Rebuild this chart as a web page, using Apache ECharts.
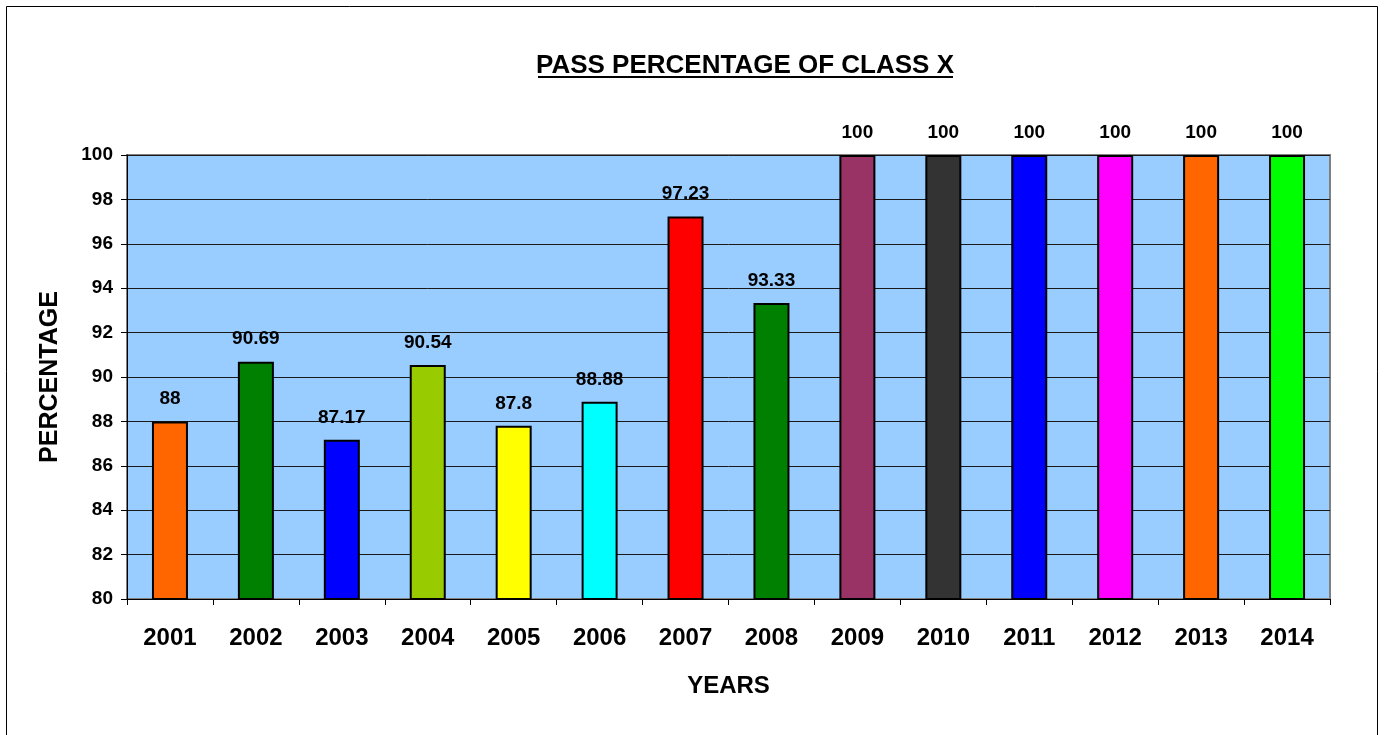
<!DOCTYPE html>
<html>
<head>
<meta charset="utf-8">
<script src="https://cdn.jsdelivr.net/npm/echarts@6/dist/echarts.min.js"></script>
<style>
html,body{margin:0;padding:0;background:#fff;}
#chart{width:1384px;height:735px;}
</style>
</head>
<body>
<div id="chart"></div>
<script>
var years = ['2001','2002','2003','2004','2005','2006','2007','2008','2009','2010','2011','2012','2013','2014'];
var passPercent = [88, 90.69, 87.17, 90.54, 87.8, 88.88, 97.23, 93.33, 100, 100, 100, 100, 100, 100];
var barColors = ['#FF6600','#008000','#0000FF','#99CC00','#FFFF00','#00FFFF','#FF0000','#008000','#993366','#333333','#0000FF','#FF00FF','#FF6600','#00FF00'];
var titleText = 'PASS PERCENTAGE OF CLASS X';

var chart = echarts.init(document.getElementById('chart'));
var font = 'Liberation Sans, Arial, sans-serif';
chart.setOption({
  animation: false,
  backgroundColor: '#ffffff',
  title: {
    text: titleText,
    left: 740,
    textAlign: 'center',
    top: 48,
    textStyle: { fontFamily: font, fontWeight: 'bold', fontSize: 26, color: '#000' }
  },
  graphic: [
    { type: 'rect', shape: { x: 6.5, y: 6.5, width: 1371, height: 740 }, style: { fill: 'none', stroke: '#000', lineWidth: 1 }, silent: true },
    { type: 'line', shape: { x1: 538, y1: 77, x2: 953, y2: 77 }, style: { stroke: '#000', lineWidth: 2 }, silent: true }
  ],
  grid: {
    left: 127, right: 54, top: 155, bottom: 136,
    show: true, backgroundColor: '#99CCFF', borderColor: '#808080', borderWidth: 2
  },
  xAxis: {
    type: 'category',
    data: years,
    name: 'YEARS',
    nameLocation: 'middle',
    nameGap: 75,
    nameTextStyle: { fontFamily: font, fontWeight: 'bold', fontSize: 24, color: '#000' },
    axisLine: { lineStyle: { color: '#000', width: 1 } },
    axisTick: { show: true, alignWithLabel: false, length: 6, lineStyle: { color: '#000' } },
    axisLabel: { fontFamily: font, fontWeight: 'bold', fontSize: 24, color: '#000', margin: 27 }
  },
  yAxis: {
    type: 'value',
    min: 80, max: 100, interval: 2,
    name: 'PERCENTAGE',
    nameLocation: 'middle',
    nameGap: 64,
    nameRotate: 90,
    nameTextStyle: { fontFamily: font, fontWeight: 'bold', fontSize: 25, color: '#000' },
    axisLine: { show: true, lineStyle: { color: '#000', width: 1 } },
    axisTick: { show: true, length: 6, lineStyle: { color: '#000' } },
    axisLabel: { fontFamily: font, fontWeight: 'bold', fontSize: 19, color: '#000', margin: 14 },
    splitLine: { show: true, lineStyle: { color: '#1a1a1a', width: 1 } }
  },
  series: [{
    type: 'bar',
    barWidth: 36,
    data: passPercent.map(function (v, i) {
      return { value: v, itemStyle: { color: barColors[i] } };
    }),
    itemStyle: { borderColor: '#000', borderWidth: 2 },
    label: {
      show: true, position: 'top', distance: 13,
      fontFamily: font, fontWeight: 'bold', fontSize: 19, color: '#000'
    }
  }]
});
</script>
</body>
</html>
